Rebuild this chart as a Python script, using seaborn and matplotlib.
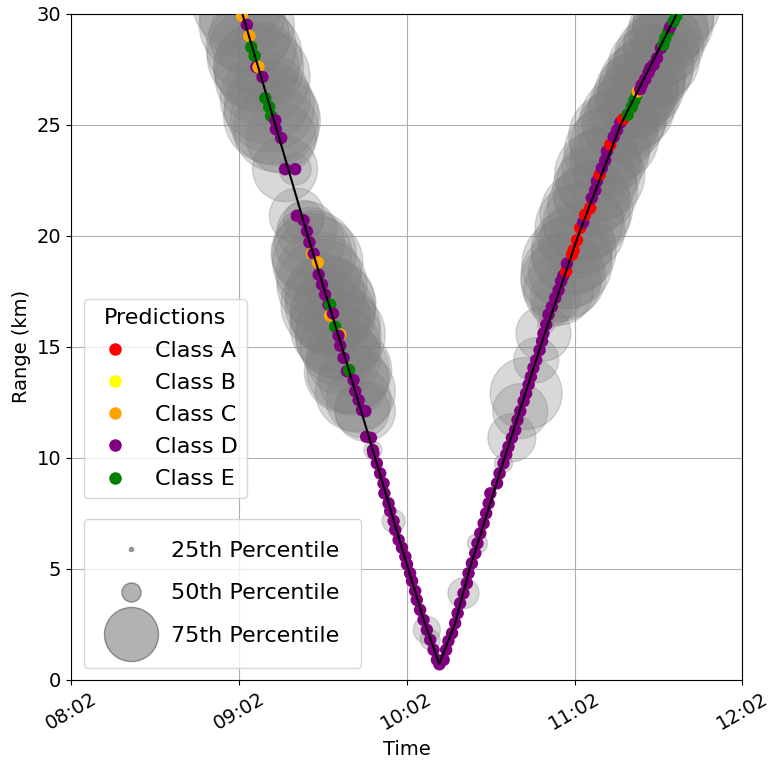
import pandas as pd
import seaborn as sns
import matplotlib.pyplot as plt
import matplotlib.dates as mdates
from matplotlib.lines import Line2D

# track (black line): minutes after 08:00, range in km
track_min = [60.2, 63.2, 75.0, 86.6, 98.8, 110.7, 122.5, 128.6, 133.6, 139.2, 144.5, 157.0, 169.8, 183.3, 198.5, 218.6, 221.8]
track_km = [31.5, 30.0, 25.0, 20.0, 15.0, 10.0, 5.0, 2.5, 0.72, 2.5, 5.0, 10.0, 15.0, 20.0, 25.0, 30.0, 31.0]

# inbound predictions
in_min = [61.4, 63.1, 64.8, 65.7, 66.4, 67.6, 68.2, 69.0, 70.4, 71.4, 72.8, 73.5, 75.0, 75.2, 77.1,
          78.5, 82.1, 82.7, 85.1, 86.3, 87.2, 88.1, 88.7, 90.2, 90.5, 91.7, 92.8, 94.0, 94.6, 94.6,
          95.6, 96.4, 98.2, 97.6, 98.2, 99.4, 100.6, 101.4, 103.0, 103.6, 104.8, 106.0, 107.2, 107.5,
          109.2, 109.9,
          110.1, 111.3, 112.5, 113.7, 114.0, 115.5, 116.1, 117.3, 117.9, 119.1, 120.3, 121.5, 122.1,
          123.2, 123.9, 125.0, 125.6, 126.8, 128.0, 129.2, 130.4, 131.6, 132.8, 133.7]
in_km = [30.5, 29.9, 29.5, 29.0, 28.5, 28.1, 27.6, 27.6, 27.15, 26.2, 25.8, 25.4, 25.2, 24.8, 24.4,
         23.0, 23.0, 20.9, 20.7, 20.2, 19.7, 19.2, 19.2, 18.8, 18.25, 17.8, 17.35, 16.9, 16.9, 16.4,
         16.5, 15.9, 15.55, 15.5, 15.05, 14.5, 13.9, 13.95, 13.5, 13.0, 12.6, 12.15, 12.1, 10.95,
         10.9, 10.35,
         10.2, 9.75, 9.3, 8.85, 8.4, 7.95, 7.6, 7.15, 6.75, 6.3, 5.95, 5.55, 5.2,
         4.8, 4.45, 4.0, 3.6, 3.15, 2.7, 2.25, 1.8, 1.35, 0.9, 0.7]
in_cls = list("DCDCEEDCDEEEDDDDDDDDDCDCDDDDECDECDDDDEDDDDDDDD" + "D" * 24)
in_spread = [9.0, 8.5, 9.5, 8.0, 9.0, 9.5, 8.5, 9.0, 9.5, 9.0, 9.0, 9.5, 9.0, 8.5, 7.0,
             6.5, 3.2, 5.5, 4.0, 6.0, 7.0, 8.0, 8.5, 9.0, 8.5, 9.0, 8.0, 9.5, 9.0, 8.0,
             8.5, 9.0, 9.0, 8.5, 8.0, 7.5, 8.5, 8.5, 7.0, 8.0, 6.5, 5.5, 6.0, 0.5,
             0.5, 1.8,
             0.4, 0.4, 0.4, 0.4, 0.4, 0.4, 0.4, 2.3, 0.4, 0.4, 0.4, 0.4, 0.4,
             0.4, 0.4, 0.4, 0.4, 0.4, 0.4, 2.7, 2.0, 0.4, 0.4, 0.4]

# outbound predictions
out_min = [135.2, 136.1, 136.9, 138.2, 139.3, 140.2, 141.1, 142.3, 143.5, 144.1, 145.3, 146.5,
           147.3, 148.3, 149.5, 150.4, 151.3, 151.9,
           154.3, 155.2, 156.6, 157.6, 158.4, 159.6, 160.8, 161.6, 162.6, 163.8, 164.7, 165.6,
           166.4, 167.3, 168.3, 169.5, 170.4, 170.9, 171.9, 172.7, 173.9, 175.1, 176.3, 177.2,
           178.0, 179.0, 179.3, 181.1,
           181.7, 182.9, 184.0, 185.1, 185.8, 187.6, 188.2, 189.4, 190.0, 191.0, 191.8, 193.0,
           193.6, 194.8, 196.0, 197.2, 198.4, 199.4, 201.0, 202.5, 203.4, 204.3, 204.6, 205.5,
           206.1, 207.3, 208.5, 209.1, 210.3, 211.5, 212.9, 213.8, 214.5, 215.6, 216.2, 217.4,
           218.4, 219.8]
out_km = [0.9, 1.35, 1.75, 2.1, 2.55, 3.0, 3.45, 3.9, 4.35, 4.8, 5.25, 5.7,
          6.15, 6.6, 7.05, 7.5, 7.95, 8.4,
          8.85, 9.3, 9.75, 10.15, 10.5, 10.9, 11.25, 11.7, 12.1, 12.55, 12.9, 13.3,
          13.65, 14.05, 14.4, 14.85, 15.25, 15.6, 16.0, 16.45, 16.8, 17.2, 17.55, 17.95,
          18.2, 18.4, 18.75, 19.15,
          19.35, 19.8, 20.35, 20.6, 20.95, 21.25, 21.7, 22.05, 22.45, 22.75, 23.05, 23.4,
          23.8, 24.1, 24.45, 24.75, 25.1, 25.25, 25.45, 25.8, 26.1, 26.35, 26.5, 26.6,
          26.8, 27.05, 27.35, 27.55, 27.7, 28.0, 28.45, 28.6, 28.9, 29.2, 29.4, 29.65,
          29.9, 30.4]
out_cls = list("D" * 18 + "D" * 24 + "DADA" + "AAADAADDDADDDADDDAEEEECDDDDDDDDEEEDEED")
out_spread = [0.4, 0.4, 0.4, 0.4, 0.4, 0.4, 0.4, 3.1, 0.4, 0.4, 0.4, 0.4,
              2.0, 0.4, 0.4, 0.4, 0.4, 0.4,
              0.4, 0.4, 1.8, 0.4, 0.4, 4.8, 0.4, 0.4, 5.5, 0.4, 7.2, 0.4,
              0.4, 0.4, 4.5, 0.4, 0.4, 5.5, 1.7, 0.4, 4.0, 5.0, 7.0, 8.0,
              8.5, 7.5, 9.0, 8.0,
              8.5, 7.5, 9.0, 8.0, 9.0, 8.5, 7.5, 8.5, 8.0, 9.0, 8.0, 7.0,
              8.5, 8.0, 9.0, 8.0, 7.5, 8.5, 8.0, 8.5, 7.5, 8.5, 8.0, 7.5,
              8.5, 8.0, 7.5, 8.5, 8.0, 8.5, 7.5, 8.0, 7.0, 8.0, 7.5, 8.0,
              7.5, 8.0]

classes = ["A", "B", "C", "D", "E"]
class_colors = ["red", "yellow", "orange", "purple", "green"]
pct_labels = ["25th Percentile", "50th Percentile", "75th Percentile"]
pct_spread = [0.4, 1.9, 5.4]

base = pd.Timestamp("2021-01-01 08:00")
df = pd.DataFrame({
    "minutes": in_min + out_min,
    "range": in_km + out_km,
    "cls": in_cls + out_cls,
    "spread": in_spread + out_spread,
})
df["time"] = base + pd.to_timedelta(df["minutes"], unit="min")
df["area"] = (df["spread"] * 7.2) ** 2
track = pd.DataFrame({"time": base + pd.to_timedelta(track_min, unit="min"), "range": track_km})

plt.rcParams["font.size"] = 14
fig, ax = plt.subplots(figsize=(7.74, 7.63), dpi=100)
fig.subplots_adjust(left=0.092, right=0.959, top=0.982, bottom=0.109)
ax.grid(True, zorder=0)
ax.set_axisbelow(True)

amin, amax = df["area"].min(), df["area"].max()
sns.scatterplot(data=df, x="time", y="range", size="area", sizes=(amin, amax), size_norm=(amin, amax),
                color="gray", alpha=0.3, edgecolor="gray", linewidth=1, legend=False, ax=ax, zorder=2)
sns.scatterplot(data=df, x="time", y="range", hue="cls", hue_order=classes,
                palette=dict(zip(classes, class_colors)), s=80, linewidth=0, legend=False, ax=ax, zorder=3)
sns.lineplot(data=track, x="time", y="range", color="black", linewidth=1.5, sort=False, ax=ax, zorder=4)

ax.set_xlim(base + pd.Timedelta(minutes=2), base + pd.Timedelta(minutes=242))
ax.set_xticks([base + pd.Timedelta(minutes=2 + 60 * i) for i in range(5)])
ax.xaxis.set_major_formatter(mdates.DateFormatter("%H:%M"))
plt.setp(ax.get_xticklabels(), rotation=30)
ax.set_ylim(0, 30)
ax.set_yticks(range(0, 31, 5))
ax.set_xlabel("Time")
ax.set_ylabel("Range (km)")

cls_handles = [Line2D([], [], marker="o", linestyle="", markersize=8, color=c, label="Class " + k)
               for k, c in zip(classes, class_colors)]
leg1 = ax.legend(handles=cls_handles, title="Predictions", loc="upper left",
                 bbox_to_anchor=(0.019, 0.571), borderaxespad=0, fontsize=16, title_fontsize=16,
                 labelspacing=0.55)
ax.add_artist(leg1)
pct_handles = [Line2D([], [], marker="o", linestyle="", markersize=v * 7.2,
                      markerfacecolor=(0.5, 0.5, 0.5, 0.6), markeredgecolor=(0.4, 0.4, 0.4, 0.7),
                      label=lab) for lab, v in zip(pct_labels, pct_spread)]
ax.legend(handles=pct_handles, loc="lower left", bbox_to_anchor=(0.019, 0.018), borderaxespad=0,
          handlelength=2.2, handletextpad=0.7, borderpad=1.0, labelspacing=1.0, fontsize=16)

fig.savefig("out.png", dpi=100)
